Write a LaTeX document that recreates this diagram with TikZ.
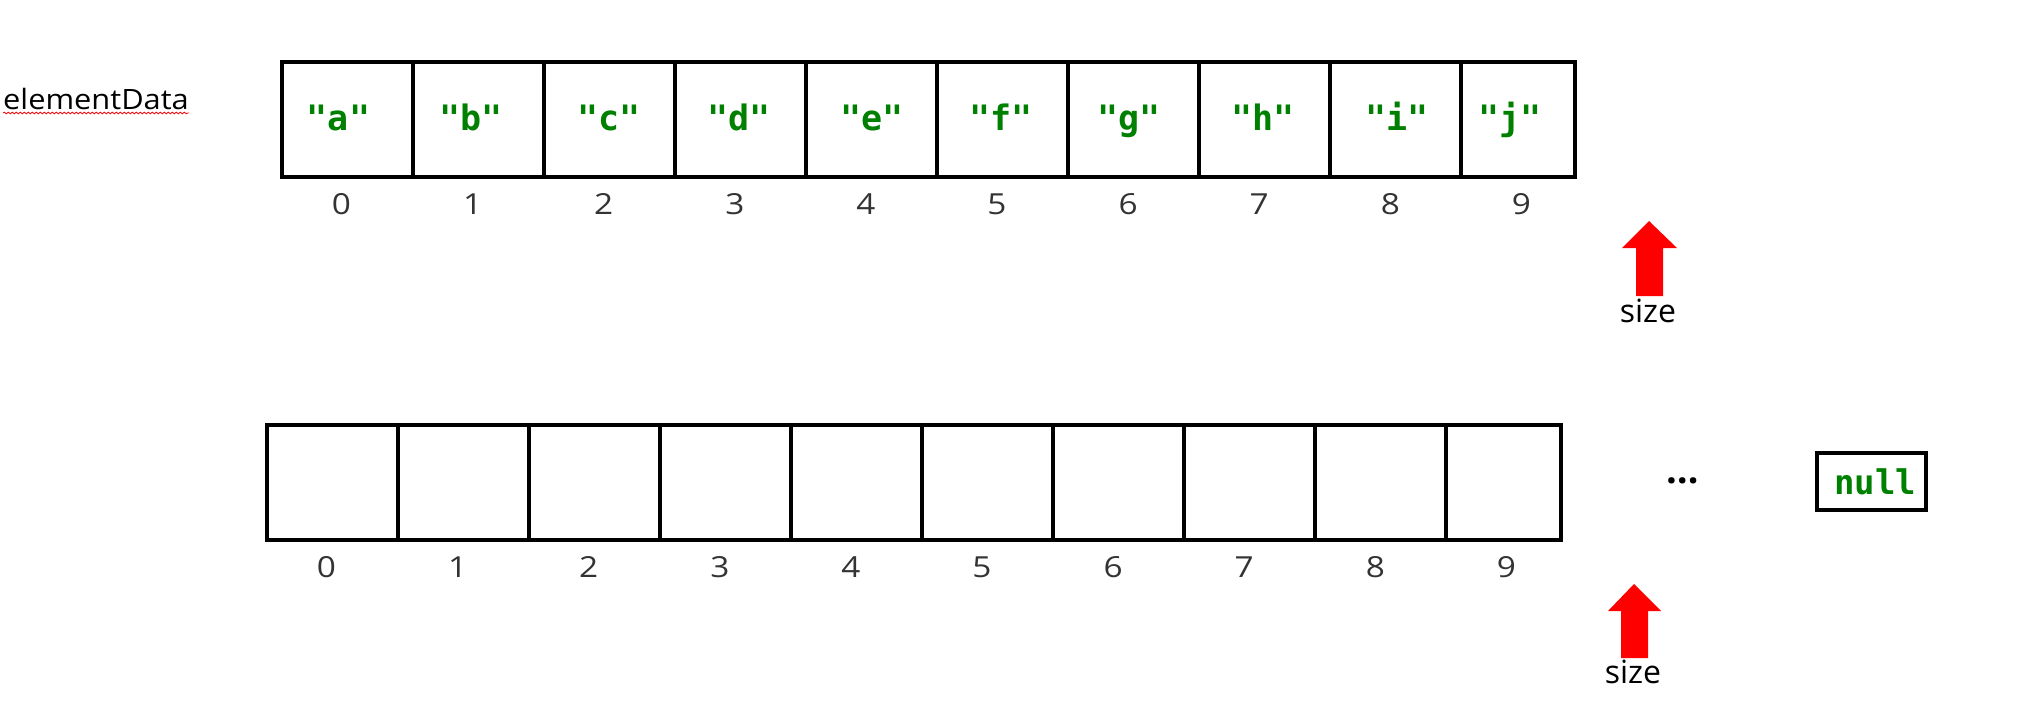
\documentclass[tikz,border=0pt]{standalone}
\usepackage{fontspec}
\usepackage{graphicx}
\setmainfont{Open Sans}
\newfontfamily\codefont{DejaVu Sans Mono}
\usetikzlibrary{decorations.pathmorphing}
\definecolor{codegreen}{RGB}{0,128,0}
\definecolor{idxgray}{RGB}{51,51,51}
\begin{document}
\begin{tikzpicture}[x=1pt,y=-1pt,
  cell/.style={draw=black, line width=4pt, minimum height=114.5pt, inner sep=0pt, outer sep=0pt, anchor=north west},
  val/.style={text=codegreen, font=\codefont\bfseries\fontsize{35}{40}\selectfont, anchor=base, inner sep=0pt},
  idx/.style={text=idxgray, font=\fontsize{29}{34}\selectfont, anchor=base, inner sep=0pt},
  plain/.style={text=black, anchor=base, inner sep=0pt},
  sizearrow/.style={fill=red, draw=none}]
\fill[white] (0,0) rectangle (2024,717);
\useasboundingbox (0,0) rectangle (2024,717);

% label
\node[plain, anchor=base west, font=\fontsize{28}{32}\selectfont] (name) at (3,110) {\scalebox{1.1}[1]{elementData}};
\draw[red, line width=0.8pt, decorate, decoration={snake, amplitude=0.8pt, segment length=4pt}]
  ([yshift=-3pt]name.base west) -- ([yshift=-3pt]name.base east);

% top array
\foreach \i in {0,...,8}
  \node[cell, minimum width=131.1pt] (t\i) at ({281.5+131.1*\i},62.5) {};
\node[cell, minimum width=113.6pt] (t9) at (1461.4,62.5) {};
\foreach \x/\l [count=\i from 0] in {338.5/a,471/b,609/c,739/d,872/e,1001/f,1129/g,1263/h,1397/i,1510/j}
  \node[val] (v\i) at (\x,130) {"\l"};
\foreach \i in {0,...,9}
  \node[idx] (ti\i) at ({341.5+131.1*\i},214.5) {\scalebox{1.15}[1]{\i}};

% top size arrow
\fill[sizearrow] (1636,296) -- (1636,248) -- (1622,248) -- (1649,221) -- (1677,248) -- (1663,248) -- (1663,296) -- cycle;
\node[plain, font=\fontsize{32}{36}\selectfont] (size1) at (1648,322) {size};

% bottom array
\foreach \i in {0,...,8}
  \node[cell, minimum width=131.1pt] (b\i) at ({266.5+131.1*\i},425) {};
\node[cell, minimum width=114.6pt] (b9) at (1446.4,425) {};
\foreach \i in {0,...,9}
  \node[idx] (bi\i) at ({326.5+131.1*\i},577) {\scalebox{1.15}[1]{\i}};

% bottom size arrow
\fill[sizearrow] (1621,658) -- (1621,611) -- (1608,611) -- (1634,584) -- (1661,611) -- (1648,611) -- (1648,658) -- cycle;
\node[plain, font=\fontsize{32}{36}\selectfont] (size2) at (1633,683) {size};

% ellipsis
\node[plain, font=\bfseries\fontsize{38}{42}\selectfont] (dots) at (1682.5,483) {…};

% null box
\node[draw=black, line width=4pt, minimum width=109pt, minimum height=57pt, inner sep=0pt] (nullbox) at (1871.5,481.5) {};
\node[val, font=\codefont\bfseries\fontsize{34}{38}\selectfont] (nulltext) at (1875,494) {null};
\end{tikzpicture}
\end{document}
